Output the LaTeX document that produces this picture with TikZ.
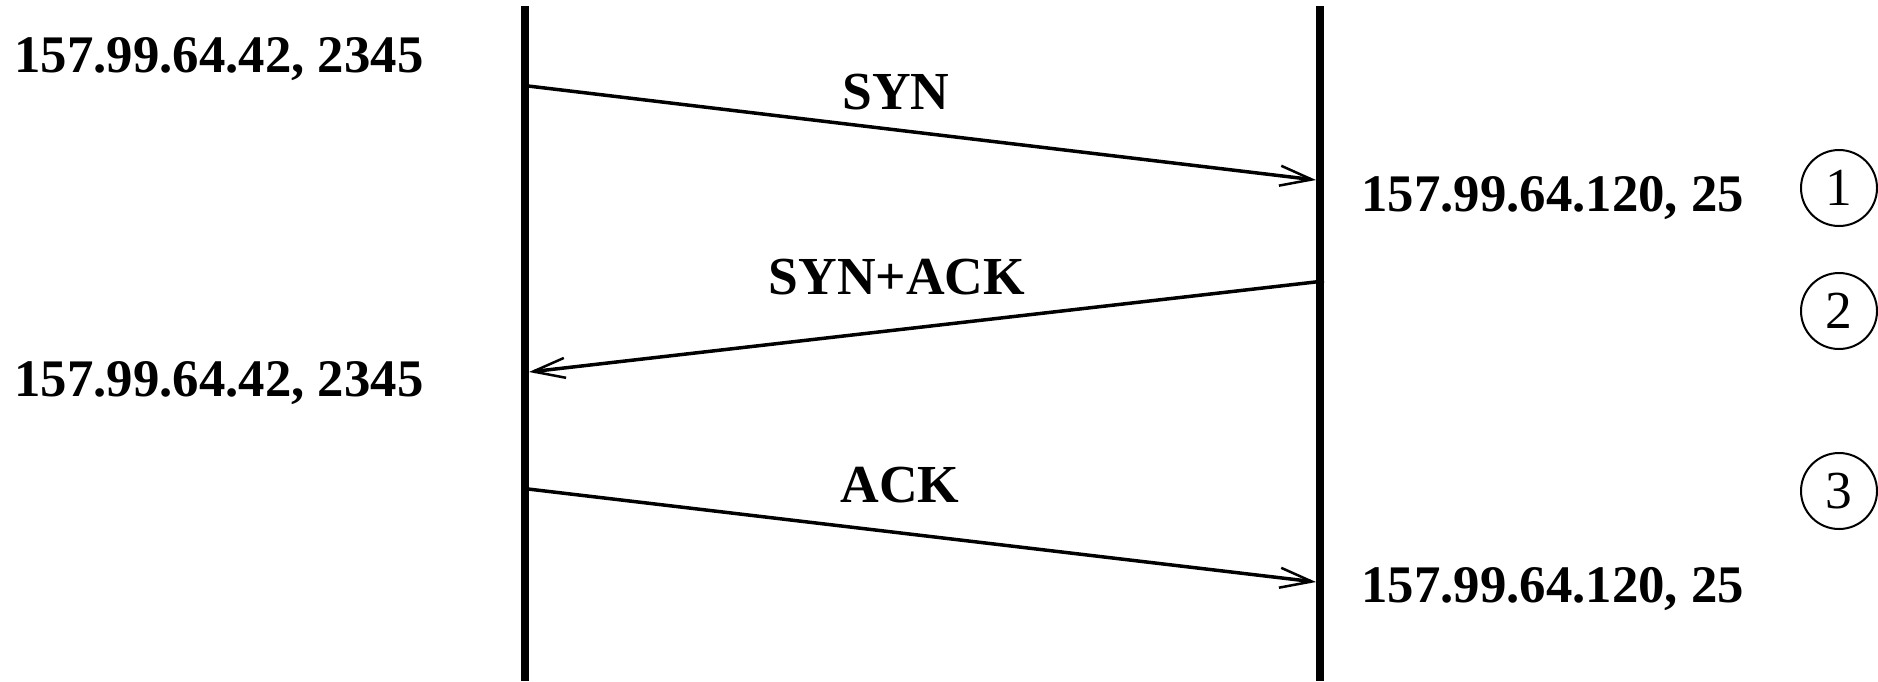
\documentclass[tikz,border=0pt]{standalone}
\usepackage{fontspec}
\setmainfont{Liberation Serif}
\usetikzlibrary{arrows.meta}
\begin{document}
\begin{tikzpicture}[x=1pt,y=-1pt,
  lifeline/.style={line width=8pt},
  msg/.style={line width=3.5pt,-{Straight Barb[length=32pt,width=20pt,line width=2.5pt]}},
  addr/.style={font=\fontsize{52.8}{60}\selectfont\bfseries,inner sep=0pt},
  msglabel/.style={font=\fontsize{53.5}{60}\selectfont\bfseries,inner sep=0pt,anchor=base},
  stepnum/.style={draw,circle,line width=2pt,minimum size=76pt,inner sep=0pt,font=\fontsize{53.5}{60}\selectfont}]
\useasboundingbox (0,0) rectangle (1878,681);
% lifelines
\coordinate (Ltop) at (525,6);
\coordinate (Lbot) at (525,681);
\coordinate (Rtop) at (1320,6);
\coordinate (Rbot) at (1320,681);
\draw[lifeline] (Ltop) -- (Lbot);
\draw[lifeline] (Rtop) -- (Rbot);
% message endpoints
\coordinate (s1) at (528,86);
\coordinate (e1) at (1316,180);
\coordinate (s2) at (1324,281);
\coordinate (e2) at (529,372);
\coordinate (s3) at (528,489);
\coordinate (e3) at (1316,582);
\draw[msg] (s1) -- (e1);
\draw[msg] (s2) -- (e2);
\draw[msg] (s3) -- (e3);
% message labels
\node[msglabel] (lsyn) at (896,109) {SYN};
\node[msglabel] (lsynack) at (897,294) {SYN+ACK};
\node[msglabel] (lack) at (900,502) {ACK};
% addresses
\node[addr,anchor=base west] (c1) at (14,72) {157.99.64.42, 2345};
\node[addr,anchor=base west] (c2) at (14,396) {157.99.64.42, 2345};
\node[addr,anchor=base west] (sv1) at (1361,211) {157.99.64.120, 25};
\node[addr,anchor=base west] (sv2) at (1361,602) {157.99.64.120, 25};
% step numbers
\node[stepnum] (n1) at (1839,188) {1};
\node[stepnum] (n2) at (1839,311) {2};
\node[stepnum] (n3) at (1839,491) {3};
\end{tikzpicture}
\end{document}
